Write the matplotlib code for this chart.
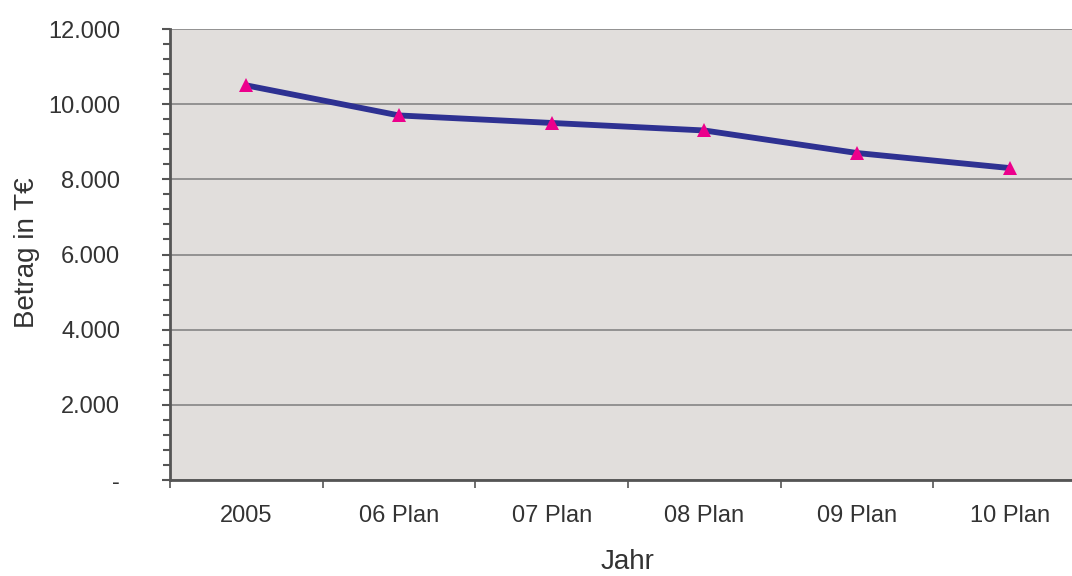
import matplotlib
matplotlib.use("Agg")
import matplotlib.pyplot as plt
from matplotlib.ticker import FuncFormatter, MultipleLocator, FixedLocator

years = ["2005", "06 Plan", "07 Plan", "08 Plan", "09 Plan", "10 Plan"]
amounts = [10500, 9700, 9500, 9300, 8700, 8300]

plt.rcParams["font.family"] = ["Liberation Sans", "DejaVu Sans"]

fig = plt.figure(figsize=(10.72, 5.76), dpi=100)
ax = fig.add_axes([170 / 1072, 96 / 576, 916 / 1072, 451 / 576])
ax.set_facecolor("#E1DEDC")

x = list(range(len(years)))
ax.plot(x, amounts, color="#2E3192", linewidth=4.2, zorder=3,
        solid_capstyle="butt")
ax.plot(x, amounts, linestyle="none", marker="^", markersize=10,
        color="#EC008C", markeredgewidth=0, zorder=4)

ax.set_ylim(0, 12000)
ax.set_xlim(-0.5, len(years) - 0.5)

ax.yaxis.set_major_locator(MultipleLocator(2000))
ax.yaxis.set_minor_locator(MultipleLocator(400))


def thousands(v, pos):
    if v == 0:
        return "-"
    return f"{int(v):,}".replace(",", ".")


ax.yaxis.set_major_formatter(FuncFormatter(thousands))
ax.grid(axis="y", which="major", color="#858585", linewidth=1.2, zorder=1)
ax.set_axisbelow(True)

ax.xaxis.set_major_locator(FixedLocator([i - 0.5 for i in range(len(years) + 1)]))
ax.xaxis.set_major_formatter(FuncFormatter(lambda v, p: ""))
ax.xaxis.set_minor_locator(FixedLocator(x))
ax.set_xticklabels(years, minor=True)
ax.tick_params(axis="x", which="minor", length=0, pad=18, labelsize=17,
               labelcolor="#333333")
ax.tick_params(axis="x", which="major", length=6, width=1.2, color="#555555",
               direction="out")
ax.tick_params(axis="y", which="major", length=6, width=1.5, color="#555555",
               direction="out", pad=30, labelsize=17, labelcolor="#333333")
ax.tick_params(axis="y", which="minor", length=5, width=1.5, color="#555555",
               direction="out")

for side in ("top", "right"):
    ax.spines[side].set_visible(False)
for side in ("left", "bottom"):
    ax.spines[side].set_color("#555555")
    ax.spines[side].set_linewidth(2)

fig.text(27 / 1072, 1 - 253 / 576, "Betrag in T€", rotation=90,
         ha="center", va="center", fontsize=20, color="#333333")
fig.text(628 / 1072, 1 - 562 / 576, "Jahr", ha="center", va="center",
         fontsize=20, color="#333333")

fig.savefig("out.png", dpi=100)
